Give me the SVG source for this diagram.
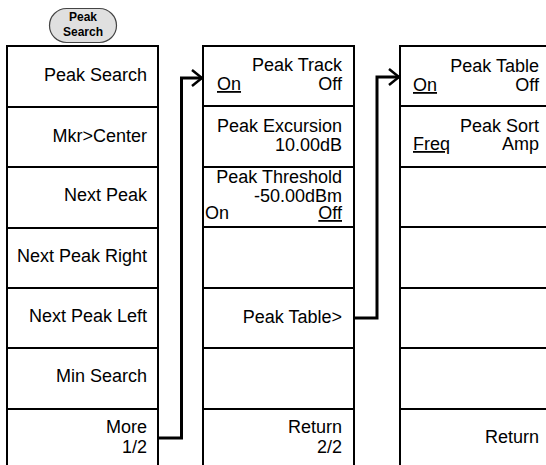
<svg xmlns="http://www.w3.org/2000/svg" width="546" height="465" viewBox="0 0 546 465">
<defs>
<style>
.panel{fill:#fff;stroke:#000;stroke-width:2}
.div{stroke:#000;stroke-width:2}
.t{font-family:"Liberation Sans",Arial,sans-serif;font-size:18px;fill:#000}
.r{text-anchor:end}
.u{text-decoration:underline}
.btn{fill:#e0e0e0;stroke:#444;stroke-width:1.2}
.bt{font-family:"Liberation Sans",Arial,sans-serif;font-size:12px;font-weight:bold;text-anchor:middle;fill:#000}
.conn{fill:none;stroke:#000;stroke-width:3}
</style>
<marker id="chev" viewBox="0 0 12 18" refX="11" refY="9" markerWidth="12" markerHeight="18" markerUnits="userSpaceOnUse" orient="auto">
<path d="M1,1 L11,9 L1,17" fill="none" stroke="#000" stroke-width="2.5"/>
</marker>
</defs>
<rect width="546" height="465" fill="#fff"/>

<g id="peak-search-key">
<rect class="btn" x="49.5" y="8.5" width="67" height="34" rx="17" ry="17"/>
<text class="bt" x="83" y="21">Peak</text>
<text class="bt" x="83" y="36">Search</text>
</g>

<g id="menu1">
<rect class="panel" x="7" y="46" width="151" height="430"/>
<line class="div" x1="7" y1="107" x2="158" y2="107"/>
<line class="div" x1="7" y1="167" x2="158" y2="167"/>
<line class="div" x1="7" y1="228" x2="158" y2="228"/>
<line class="div" x1="7" y1="288" x2="158" y2="288"/>
<line class="div" x1="7" y1="348" x2="158" y2="348"/>
<line class="div" x1="7" y1="409" x2="158" y2="409"/>
<text class="t r" x="147" y="81">Peak Search</text>
<text class="t r" x="147" y="142">Mkr&gt;Center</text>
<text class="t r" x="147" y="201">Next Peak</text>
<text class="t r" x="147" y="262">Next Peak Right</text>
<text class="t r" x="147" y="322">Next Peak Left</text>
<text class="t r" x="147" y="382">Min Search</text>
<text class="t r" x="147" y="433">More</text>
<text class="t r" x="147" y="453">1/2</text>
</g>

<g id="menu2">
<rect class="panel" x="203" y="46" width="151" height="430"/>
<line class="div" x1="203" y1="106" x2="354" y2="106"/>
<line class="div" x1="203" y1="167" x2="354" y2="167"/>
<line class="div" x1="203" y1="227" x2="354" y2="227"/>
<line class="div" x1="203" y1="288" x2="354" y2="288"/>
<line class="div" x1="203" y1="348" x2="354" y2="348"/>
<line class="div" x1="203" y1="409" x2="354" y2="409"/>
<text class="t r" x="342" y="71">Peak Track</text>
<text class="t u" x="217" y="90">On</text>
<text class="t r" x="342" y="90">Off</text>
<text class="t r" x="342" y="132">Peak Excursion</text>
<text class="t r" x="342" y="151">10.00dB</text>
<text class="t r" x="342" y="183">Peak Threshold</text>
<text class="t r" x="342" y="202">-50.00dBm</text>
<text class="t" x="205" y="219">On</text>
<text class="t r u" x="342" y="219">Off</text>
<text class="t r" x="342" y="323">Peak Table&gt;</text>
<text class="t r" x="342" y="433">Return</text>
<text class="t r" x="342" y="453">2/2</text>
</g>

<g id="menu3">
<rect class="panel" x="400" y="46" width="160" height="430"/>
<line class="div" x1="400" y1="106" x2="560" y2="106"/>
<line class="div" x1="400" y1="167" x2="560" y2="167"/>
<line class="div" x1="400" y1="227" x2="560" y2="227"/>
<line class="div" x1="400" y1="288" x2="560" y2="288"/>
<line class="div" x1="400" y1="348" x2="560" y2="348"/>
<line class="div" x1="400" y1="409" x2="560" y2="409"/>
<text class="t r" x="539" y="72">Peak Table</text>
<text class="t u" x="413" y="91">On</text>
<text class="t r" x="539" y="91">Off</text>
<text class="t r" x="539" y="132">Peak Sort</text>
<text class="t u" x="413" y="150">Freq</text>
<text class="t r" x="539" y="150">Amp</text>
<text class="t r" x="539" y="443">Return</text>
</g>

<g id="connectors">
<path class="conn" d="M158,438 H181.5 V78 H202" marker-end="url(#chev)"/>
<path class="conn" d="M354,318 H377 V77 H399" marker-end="url(#chev)"/>
</g>
</svg>
